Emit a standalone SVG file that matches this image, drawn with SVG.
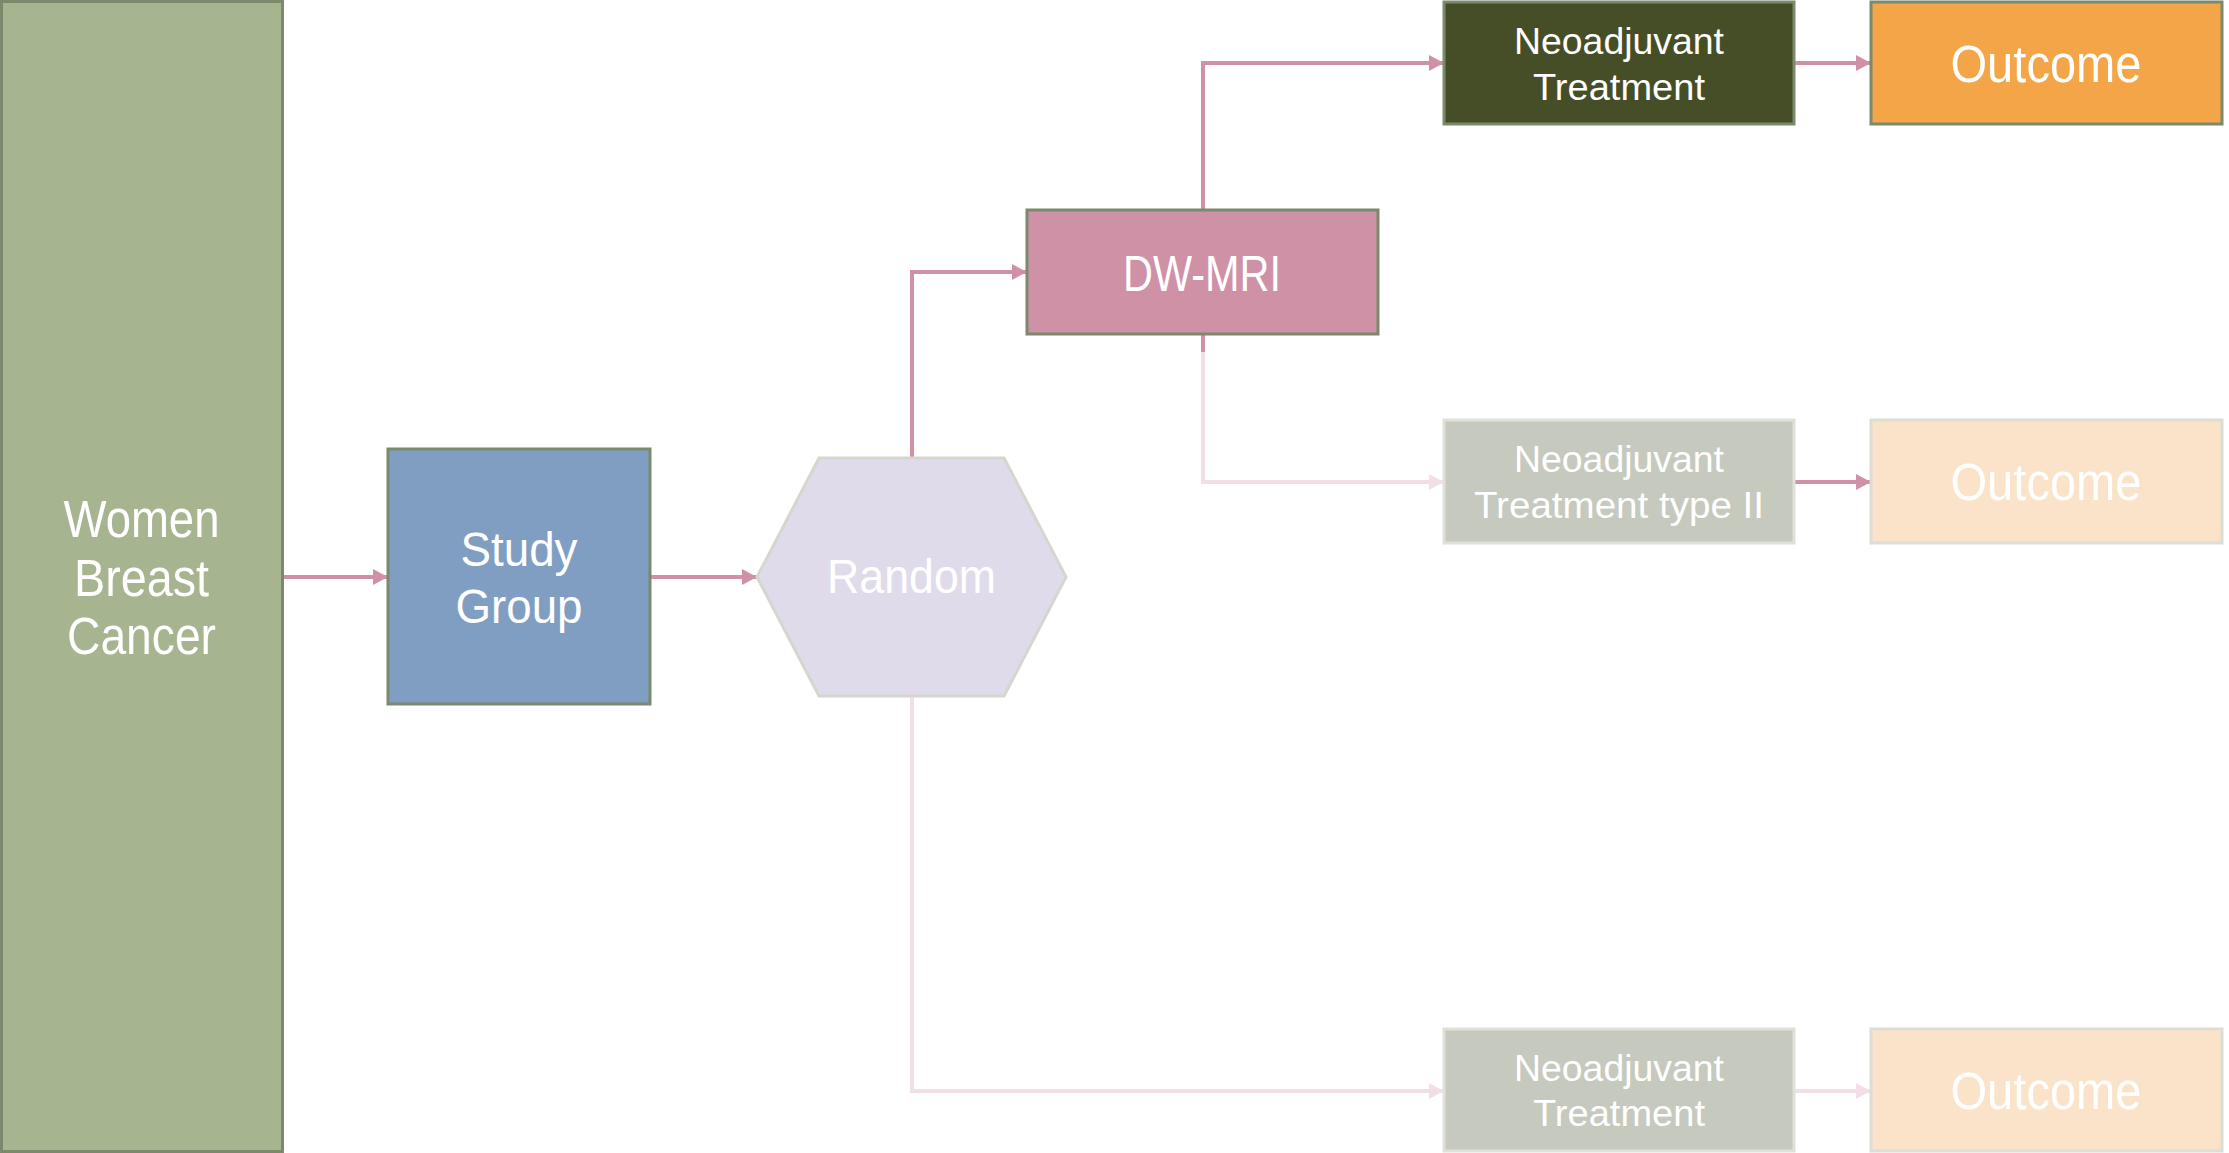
<svg xmlns="http://www.w3.org/2000/svg" width="2229" height="1153" viewBox="0 0 2229 1153">
  <style>
    .box { stroke: #7b8a6c; stroke-width: 3; }
    .pale { stroke: #dfe1d9; stroke-width: 3; }
    .lbl { font-family: "Liberation Sans", Arial, sans-serif; fill: #ffffff; text-anchor: middle; }
    .big { font-size: 51px; }
    .small { font-size: 36px; }
    .wire { fill: none; stroke: #d090a6; stroke-width: 4; }
    .wire-pale { fill: none; stroke: #f2dfe5; stroke-width: 4; }
  </style>
  <defs>
    <marker id="tip" markerUnits="userSpaceOnUse" markerWidth="17" markerHeight="18" refX="15" refY="9" orient="auto">
      <path d="M0,1 L15,9 L0,17 Z" fill="#d090a6"/>
    </marker>
    <marker id="tip-pale" markerUnits="userSpaceOnUse" markerWidth="17" markerHeight="18" refX="15" refY="9" orient="auto">
      <path d="M0,1 L15,9 L0,17 Z" fill="#f2dfe5"/>
    </marker>
  </defs>

  <rect width="2229" height="1153" fill="#ffffff"/>

  <!-- connectors -->
  <g id="connectors">
    <path class="wire" d="M284,577 H388" marker-end="url(#tip)"/>
    <path class="wire" d="M650,577 H757" marker-end="url(#tip)"/>
    <path class="wire" d="M912,458 V272 H1027" marker-end="url(#tip)"/>
    <path class="wire" d="M1203,210 V63 H1444" marker-end="url(#tip)"/>
    <path class="wire-pale" d="M1203,352 V482 H1444" marker-end="url(#tip-pale)"/>
    <path class="wire" d="M1203,334 V352"/>
    <path class="wire-pale" d="M912,696 V1091 H1444" marker-end="url(#tip-pale)"/>
    <path class="wire" d="M1794,63 H1871" marker-end="url(#tip)"/>
    <path class="wire" d="M1794,482 H1871" marker-end="url(#tip)"/>
    <path class="wire-pale" d="M1794,1091 H1871" marker-end="url(#tip-pale)"/>
  </g>

  <!-- population -->
  <g id="women">
    <rect class="box" x="1.5" y="1.5" width="281" height="1150" fill="#a6b490"/>
    <text class="lbl big" x="141.5" y="537" textLength="156" lengthAdjust="spacingAndGlyphs">Women</text>
    <text class="lbl big" x="141.5" y="596" textLength="135" lengthAdjust="spacingAndGlyphs">Breast</text>
    <text class="lbl big" x="141.5" y="654" textLength="149" lengthAdjust="spacingAndGlyphs">Cancer</text>
  </g>

  <g id="study-group">
    <rect class="box" x="388" y="449" width="262" height="255" fill="#7f9ec2"/>
    <text class="lbl" font-size="49" x="519" y="566" textLength="117" lengthAdjust="spacingAndGlyphs">Study</text>
    <text class="lbl" font-size="49" x="519" y="623" textLength="127" lengthAdjust="spacingAndGlyphs">Group</text>
  </g>

  <g id="random">
    <polygon points="757,577 819,458 1004,458 1066,577 1004,696 819,696" fill="#e0dbea" stroke="#d5d7cf" stroke-width="3"/>
    <text class="lbl" font-size="49" x="911.5" y="593" textLength="169" lengthAdjust="spacingAndGlyphs">Random</text>
  </g>

  <g id="dw-mri">
    <rect class="box" x="1027" y="210" width="351" height="124" fill="#cf91a6"/>
    <text class="lbl" font-size="50" x="1202" y="291" textLength="158" lengthAdjust="spacingAndGlyphs">DW-MRI</text>
  </g>

  <!-- treatment arm 1 -->
  <g id="treatment-1">
    <rect class="box" x="1444" y="2" width="350" height="122" fill="#464e27"/>
    <text class="lbl small" x="1619" y="54" textLength="210" lengthAdjust="spacingAndGlyphs">Neoadjuvant</text>
    <text class="lbl small" x="1619" y="100" textLength="172" lengthAdjust="spacingAndGlyphs">Treatment</text>
  </g>
  <g id="outcome-1">
    <rect class="box" x="1871" y="2" width="351" height="122" fill="#f3a547"/>
    <text class="lbl big" x="2046" y="82" textLength="191" lengthAdjust="spacingAndGlyphs">Outcome</text>
  </g>

  <!-- treatment arm 2 -->
  <g id="treatment-2">
    <rect class="pale" x="1444" y="420" width="350" height="123" fill="#c6c9bd"/>
    <text class="lbl small" x="1619" y="472" textLength="210" lengthAdjust="spacingAndGlyphs">Neoadjuvant</text>
    <text class="lbl small" x="1619" y="518" textLength="290" lengthAdjust="spacingAndGlyphs">Treatment type II</text>
  </g>
  <g id="outcome-2">
    <rect x="1871" y="420" width="351" height="123" fill="#fae3c8" stroke="#dcddd4" stroke-width="3"/>
    <text class="lbl big" x="2046" y="500" textLength="191" lengthAdjust="spacingAndGlyphs">Outcome</text>
  </g>

  <!-- treatment arm 3 -->
  <g id="treatment-3">
    <rect class="pale" x="1444" y="1029" width="350" height="122" fill="#c6c9bd"/>
    <text class="lbl small" x="1619" y="1081" textLength="210" lengthAdjust="spacingAndGlyphs">Neoadjuvant</text>
    <text class="lbl small" x="1619" y="1126" textLength="172" lengthAdjust="spacingAndGlyphs">Treatment</text>
  </g>
  <g id="outcome-3">
    <rect x="1871" y="1029" width="351" height="122" fill="#fae3c8" stroke="#dcddd4" stroke-width="3"/>
    <text class="lbl big" x="2046" y="1109" textLength="191" lengthAdjust="spacingAndGlyphs">Outcome</text>
  </g>
</svg>
